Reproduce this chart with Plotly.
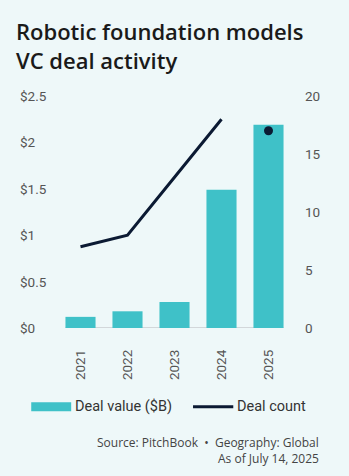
import plotly.graph_objects as go

# Data
years = ["2021", "2022", "2023", "2024", "2025"]
deal_value_b = [0.12, 0.18, 0.28, 1.49, 2.19]   # $B
deal_count = [7, 8, 13, 18, 17]
value_ticks = [0, 0.5, 1, 1.5, 2, 2.5]
value_tick_text = ["$0", "$0.5", "$1", "$1.5", "$2", "$2.5"]
count_ticks = [0, 5, 10, 15, 20]

W, H = 349, 476
ML, MR, MT, MB = 56.5, 57.2, 95.5, 147.5
PW = W - ML - MR
PH = H - MT - MB


def px(x):
    """Pixel x -> paper x."""
    return (x - ML) / PW


def py(y):
    """Pixel y (from top) -> paper y."""
    return (H - MB - y) / PH


BG = "#EEF8F9"
TEAL = "#3FC1C8"
NAVY = "#0B1A33"
TICK_FONT = dict(family="Roboto", size=13.5, color="#555555")

fig = go.Figure()

fig.add_trace(go.Bar(
    x=years, y=deal_value_b, marker_color=TEAL, marker_line_width=0,
    name="Deal value ($B)", yaxis="y", showlegend=False,
))
# Full years connected by a line, the partial current year shown as a dot
fig.add_trace(go.Scatter(
    x=years[:4], y=deal_count[:4], mode="lines",
    line=dict(color=NAVY, width=3), yaxis="y2", showlegend=False,
))
fig.add_trace(go.Scatter(
    x=years[4:], y=deal_count[4:], mode="markers",
    marker=dict(color=NAVY, size=9), yaxis="y2", showlegend=False,
))

# Baseline under the bars
fig.add_shape(type="line", xref="x", yref="y", x0=-0.32, x1=4.32, y0=0, y1=0,
              line=dict(color="#C8CDCF", width=1.5), layer="below")

annotations = []
# Left-aligned value labels
for v, t in zip(value_ticks, value_tick_text):
    annotations.append(dict(
        x=px(17), xref="paper", y=v, yref="y", text=t,
        showarrow=False, xanchor="left", yanchor="middle", font=TICK_FONT,
    ))

# Legend drawn with shapes so the swatches are wide
fig.add_shape(type="rect", xref="paper", yref="paper",
              x0=px(30.7), x1=px(70.7), y0=py(412), y1=py(403),
              fillcolor=TEAL, line_width=0)
fig.add_shape(type="line", xref="paper", yref="paper",
              x0=px(192.7), x1=px(233), y0=py(407.5), y1=py(407.5),
              line=dict(color=NAVY, width=3))
LEG_FONT = dict(family="Roboto", size=14.5, color="#333333")
annotations.append(dict(x=px(73), xref="paper", y=py(407.5), yref="paper",
                        text="Deal value ($B)", showarrow=False,
                        xanchor="left", yanchor="middle", font=LEG_FONT))
annotations.append(dict(x=px(235), xref="paper", y=py(407.5), yref="paper",
                        text="Deal count", showarrow=False,
                        xanchor="left", yanchor="middle", font=LEG_FONT))

# Source note
SRC_FONT = dict(family="Open Sans", size=12, color="#444444")
annotations.append(dict(x=px(321), xref="paper", y=py(443), yref="paper",
                        text="Source: PitchBook  •  Geography: Global", showarrow=False,
                        xanchor="right", yanchor="middle", font=SRC_FONT))
annotations.append(dict(x=px(321), xref="paper", y=py(460), yref="paper",
                        text="As of July 14, 2025", showarrow=False,
                        xanchor="right", yanchor="middle", font=SRC_FONT))

fig.update_layout(
    width=W, height=H,
    margin=dict(l=ML, r=MR, t=MT, b=MB, pad=0),
    paper_bgcolor=BG, plot_bgcolor=BG,
    bargap=0.36,
    title=dict(
        text="Robotic foundation models<br>VC deal activity",
        x=16 / W, xanchor="left", xref="container",
        y=1 - 40 / H, yanchor="top", yref="container",
        font=dict(family="Open Sans", size=22, color="#1A1A1A", weight=600),
    ),
    xaxis=dict(
        type="category", range=[-0.5, 4.5], showgrid=False, zeroline=False,
        showline=False, ticks="", tickangle=-90, tickfont=TICK_FONT,
        ticklabelstandoff=18,
    ),
    yaxis=dict(
        range=[0, 2.5], tickvals=value_ticks, showticklabels=False,
        showgrid=False, zeroline=False, showline=False, ticks="",
    ),
    yaxis2=dict(
        range=[0, 20], tickvals=count_ticks, overlaying="y", side="right",
        showgrid=False, zeroline=False, showline=False, ticks="",
        tickfont=TICK_FONT, ticklabelstandoff=12,
    ),
    annotations=annotations,
    showlegend=False,
)

fig.write_html("out.html")
